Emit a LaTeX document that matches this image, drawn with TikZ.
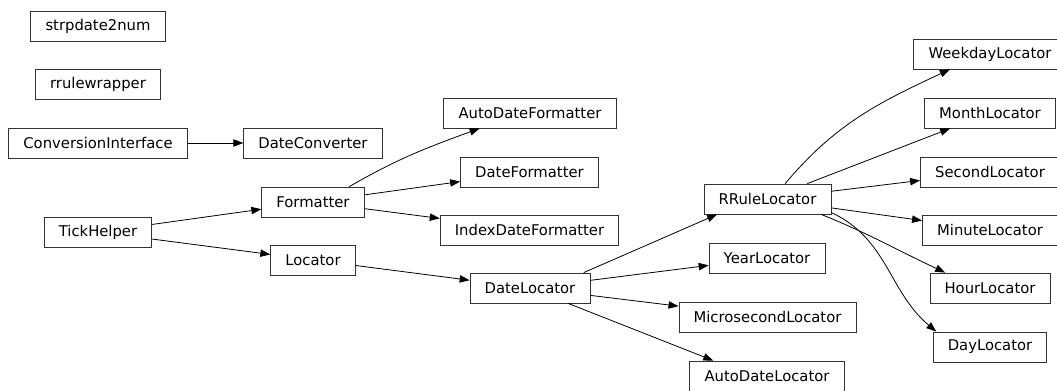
\documentclass[tikz,border=0pt]{standalone}
\usepackage{fontspec}
\setmainfont{DejaVu Sans}
\usetikzlibrary{arrows.meta}

\begin{document}
\begin{tikzpicture}[x=0.75pt, y=-0.75pt,
  cls/.style={draw=black!80, line width=0.6pt, minimum height=22.5pt,
    inner xsep=11pt, inner ysep=2pt, font=\fontsize{11.1}{13}\selectfont},
  arr/.style={-{Triangle[length=7.5pt,width=5.5pt]}, line width=0.6pt},
]
\useasboundingbox (0,0) rectangle (1057,391);
% first column
\node[cls] (s2n) at (98,26) {strpdate2num};
\node[cls] (rrw) at (98,84.5) {rrulewrapper};
\node[cls] (conv) at (98,143) {ConversionInterface};
\node[cls] (tick) at (98,232) {TickHelper};
% second column
\node[cls] (dconv) at (313,143) {DateConverter};
\node[cls] (fmt) at (313,202) {Formatter};
\node[cls] (loc) at (313,260) {Locator};
% third column
\node[cls] (adf) at (530,113) {AutoDateFormatter};
\node[cls] (df) at (529.5,172) {DateFormatter};
\node[cls] (idf) at (529.5,230) {IndexDateFormatter};
\node[cls] (dloc) at (530,288) {DateLocator};
% fourth column
\node[cls] (rrl) at (767.5,199) {RRuleLocator};
\node[cls] (yl) at (767,258) {YearLocator};
\node[cls] (msl) at (767.5,317) {MicrosecondLocator};
\node[cls] (adl) at (767,376) {AutoDateLocator};
% last column
\node[cls] (wdl) at (990,54) {WeekdayLocator};
\node[cls] (mnl) at (990,113) {MonthLocator};
\node[cls] (scl) at (990,172) {SecondLocator};
\node[cls] (mil) at (990,230) {MinuteLocator};
\node[cls] (hrl) at (990,288) {HourLocator};
\node[cls] (dyl) at (990,347) {DayLocator};
% inheritance
\draw[arr] (conv) -- (dconv);
\draw[arr] (tick) -- (fmt);
\draw[arr] (tick) -- (loc);
\draw[arr] (fmt.23) to[out=30, in=200] (adf.197);
\draw[arr] (fmt) -- (df);
\draw[arr] (fmt) -- (idf);
\draw[arr] (loc) -- (dloc);
\draw[arr] (dloc.16) -- (rrl.197);
\draw[arr] (dloc) -- (yl);
\draw[arr] (dloc) -- (msl);
\draw[arr] (dloc.-22) -- (adl.164);
\draw[arr] (rrl.41) to[out=50, in=205] (wdl.201);
\draw[arr] (rrl) -- (mnl);
\draw[arr] (rrl) -- (scl);
\draw[arr] (rrl) -- (mil);
\draw[arr] (rrl.-16) to[out=-22, in=155] (hrl.161);
\draw[arr] (rrl.-12) to[out=-25, in=140] (dyl.164);
\end{tikzpicture}
\end{document}
